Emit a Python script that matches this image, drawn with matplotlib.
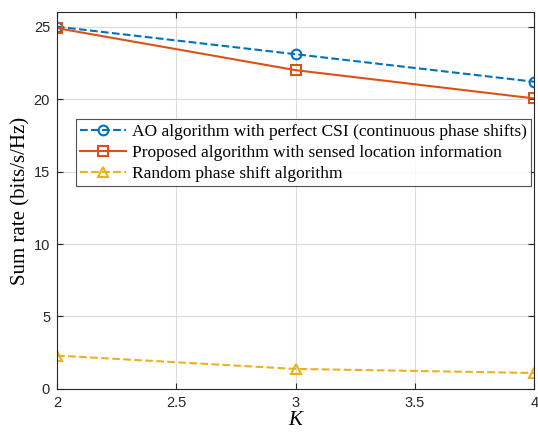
import matplotlib
matplotlib.use('Agg')
import matplotlib.pyplot as plt
import numpy as np

# data
K = [2, 3, 4]
rate_ao = [25.0, 23.1, 21.2]
rate_proposed = [24.9, 22.0, 20.05]
rate_random = [2.3, 1.38, 1.1]

labels = ['AO algorithm with perfect CSI (continuous phase shifts)',
          'Proposed algorithm with sensed location information',
          'Random phase shift algorithm']

# matlab default colours
c_blue = '#0072BD'
c_orange = '#D95319'
c_yellow = '#EDB120'

fig = plt.figure(figsize=(5.38, 4.36), dpi=100)
ax = fig.add_axes([0.106, 0.108, 0.887, 0.864])

ax.plot(K, rate_ao, '--o', color=c_blue, lw=1.5, ms=7, mfc='none', mew=1.5,
        label=labels[0])
ax.plot(K, rate_proposed, '-s', color=c_orange, lw=1.5, ms=6.5, mfc='none', mew=1.5,
        label=labels[1])
ax.plot(K, rate_random, '--^', color=c_yellow, lw=1.5, ms=7, mfc='none', mew=1.5,
        label=labels[2])

ax.set_xlim(2, 4)
ax.set_ylim(0, 26)
ax.set_xticks([2, 2.5, 3, 3.5, 4])
ax.set_xticklabels(['2', '2.5', '3', '3.5', '4'])
ax.set_yticks([0, 5, 10, 15, 20, 25])

ax.grid(True, color='#dcdcdc', lw=0.8)
ax.set_axisbelow(True)
ax.tick_params(direction='in', top=True, right=True, labelsize=10.5,
               colors='#262626', length=4, width=0.8, pad=5)
for lab in ax.get_xticklabels() + ax.get_yticklabels():
    lab.set_family('Liberation Sans')
for s in ax.spines.values():
    s.set_color('#262626')
    s.set_linewidth(0.8)

ax.set_xlabel('K', fontsize=15, family='Liberation Serif', style='italic',
              labelpad=1)
ax.set_ylabel('Sum rate (bits/s/Hz)', fontsize=15, family='Liberation Serif',
              labelpad=2)

leg = ax.legend(loc='upper left', bbox_to_anchor=(0.04, 0.716),
                prop={'family': 'Liberation Serif', 'size': 12.5},
                frameon=True, fancybox=False, edgecolor='#262626',
                handlelength=2.6, handletextpad=0.35, borderpad=0.25,
                labelspacing=0.28, borderaxespad=0)
leg.get_frame().set_linewidth(0.8)

fig.savefig('out.png', dpi=100)
